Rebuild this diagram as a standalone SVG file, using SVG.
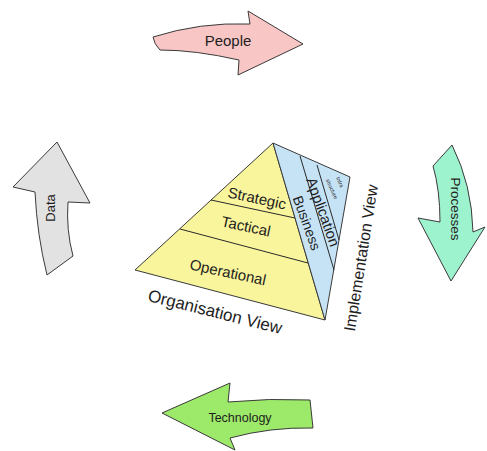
<svg xmlns="http://www.w3.org/2000/svg" width="487" height="451" viewBox="0 0 487 451">
  <style>
    .shape { stroke: #3a3a3a; stroke-width: 1; stroke-linejoin: round; }
    .line { stroke: #2a2a2a; stroke-width: 1; fill: none; }
    text { font-family: "Liberation Sans", Arial, sans-serif; fill: #1e1e1e; text-anchor: middle; dominant-baseline: central; }
  </style>
  <rect width="487" height="451" fill="#ffffff"/>

  <!-- cycle arrows -->
  <g id="people">
    <path class="shape" fill="#f8c6c4" d="M153,37 Q200,22 250,24 L248,11 L303,44 L238,75 L239,60 Q195,50 160,50 Q154,44 153,37 Z"/>
    <text x="228" y="40" font-size="15">People</text>
  </g>
  <g id="processes">
    <path class="shape" fill="#9ef3cf" d="M433,166 L452,145 Q472,185 473,232 L485,227 L451,281 L418,218 L440,222 Q440,190 433,166 Z"/>
    <text transform="translate(455,209) rotate(90)" font-size="13.5">Processes</text>
  </g>
  <g id="technology">
    <path class="shape" fill="#9de96a" d="M162,413 L230,383 L228,402 Q270,398 310,400 L313,428 Q270,427 230,438 L235,450 Z"/>
    <text x="240" y="418" font-size="12.5">Technology</text>
  </g>
  <g id="data">
    <path class="shape" fill="#e2e2e2" d="M57,142 L90,203 L68,202 Q66,230 73,256 L47,275 Q37,235 35,192 L13,187 Z"/>
    <text transform="translate(50,208) rotate(-90)" font-size="13">Data</text>
  </g>

  <!-- pyramid: organisation face -->
  <g id="organisation">
    <polygon class="shape" fill="#f9f59c" points="273,143 135,270 325,320"/>
    <line class="line" x1="211" y1="200" x2="295" y2="218"/>
    <line class="line" x1="180" y1="229" x2="308" y2="263"/>
    <text transform="translate(257,198) rotate(12)" font-size="15">Strategic</text>
    <text transform="translate(246,226) rotate(12)" font-size="15">Tactical</text>
    <text transform="translate(228,272) rotate(12)" font-size="15">Operational</text>
    <text transform="translate(215,312) rotate(14)" font-size="17">Organisation View</text>
  </g>

  <!-- pyramid: implementation face -->
  <g id="implementation">
    <polygon class="shape" fill="#c6e3f6" points="273,143 350,177 325,320"/>
    <line class="line" x1="300" y1="156" x2="334" y2="270"/>
    <line class="line" x1="317" y1="165" x2="339" y2="240"/>
    <text transform="translate(307,223) rotate(70)" font-size="14">Business</text>
    <text transform="translate(323,212) rotate(70)" font-size="14.8">Application</text>
    <text transform="translate(340,182) rotate(66)" font-size="5.5">Infra</text>
    <text transform="translate(332,189) rotate(66)" font-size="5.5">structure</text>
    <text transform="translate(361,258) rotate(-81)" font-size="16">Implementation View</text>
  </g>
</svg>
